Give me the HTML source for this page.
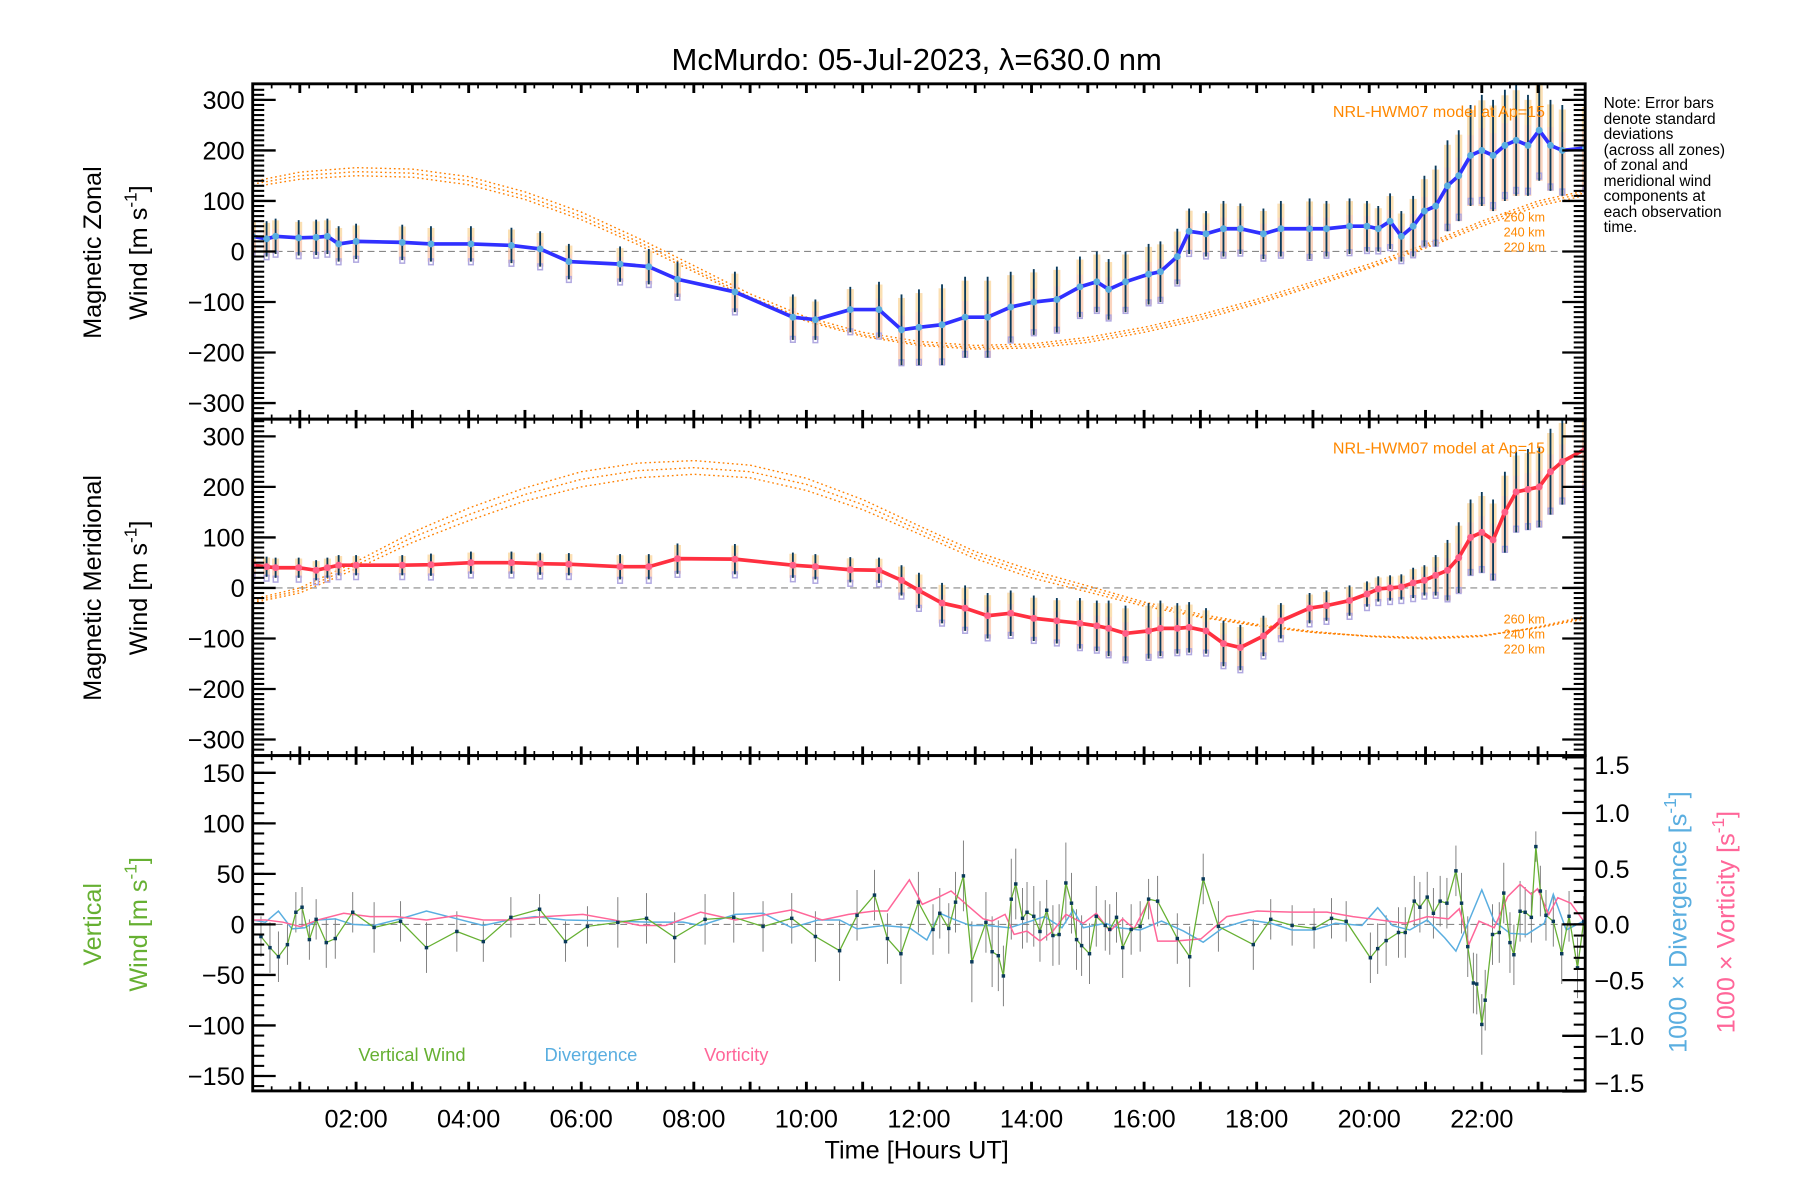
<!DOCTYPE html>
<html><head><meta charset="utf-8"><style>
html,body{margin:0;padding:0;background:#fff;}
svg{display:block;}
text{font-family:"Liberation Sans",sans-serif;}
</style></head><body>
<svg id="chart" width="1800" height="1200" viewBox="0 0 1567 1045" preserveAspectRatio="none" xmlns="http://www.w3.org/2000/svg">
<rect width="1567" height="1045" fill="#fff"/>
<text x="798" y="61" font-size="27" text-anchor="middle">McMurdo: 05-Jul-2023, λ=630.0 nm</text>
<g id="marks"></g>
<g id="axes"></g>
<g font-size="22">
<text transform="translate(88,220) rotate(-90)" text-anchor="middle">Magnetic Zonal</text>
<text transform="translate(128,220) rotate(-90)" text-anchor="middle">Wind [m s<tspan dy="-9" font-size="15">-1</tspan><tspan dy="9">]</tspan></text>
<text transform="translate(88,512) rotate(-90)" text-anchor="middle">Magnetic Meridional</text>
<text transform="translate(128,512) rotate(-90)" text-anchor="middle">Wind [m s<tspan dy="-9" font-size="15">-1</tspan><tspan dy="9">]</tspan></text>
<text transform="translate(88,805) rotate(-90)" text-anchor="middle" fill="#66b032">Vertical</text>
<text transform="translate(128,805) rotate(-90)" text-anchor="middle" fill="#66b032">Wind [m s<tspan dy="-9" font-size="15">-1</tspan><tspan dy="9">]</tspan></text>
<text transform="translate(1468,803) rotate(-90)" text-anchor="middle" fill="#5aaee0">1000 × Divergence [s<tspan dy="-9" font-size="15">-1</tspan><tspan dy="9">]</tspan></text>
<text transform="translate(1510,803) rotate(-90)" text-anchor="middle" fill="#ff6699">1000 × Vorticity [s<tspan dy="-9" font-size="15">-1</tspan><tspan dy="9">]</tspan></text>
<text x="798" y="1009" text-anchor="middle">Time [Hours UT]</text>
</g>
<g font-size="13.5">
<text x="1396" y="94">Note: Error bars</text><text x="1396" y="108">denote standard</text><text x="1396" y="121">deviations</text><text x="1396" y="135">(across all zones)</text><text x="1396" y="148">of zonal and</text><text x="1396" y="162">meridional wind</text><text x="1396" y="175">components at</text><text x="1396" y="189">each observation</text><text x="1396" y="202">time.</text>
</g>
<g font-size="14" fill="#ff8800">
<text x="1345" y="102" text-anchor="end">NRL-HWM07 model at Ap=15</text>
<text x="1345" y="193" text-anchor="end" font-size="11">260 km</text><text x="1345" y="206" text-anchor="end" font-size="11">240 km</text><text x="1345" y="219" text-anchor="end" font-size="11">220 km</text>
<text x="1345" y="395" text-anchor="end">NRL-HWM07 model at Ap=15</text>
<text x="1345" y="543" text-anchor="end" font-size="11">260 km</text><text x="1345" y="556" text-anchor="end" font-size="11">240 km</text><text x="1345" y="569" text-anchor="end" font-size="11">220 km</text>
</g>
<g font-size="16">
<text x="312" y="924" fill="#66b032">Vertical Wind</text>
<text x="474" y="924" fill="#5aaee0">Divergence</text>
<text x="613" y="924" fill="#ff6699">Vorticity</text>
</g>
</svg>
<script>
const obsHours=[0.16,0.41,0.57,0.98,1.29,1.49,1.69,2.0,2.82,3.33,4.04,4.76,5.27,5.78,6.69,7.2,7.71,8.73,9.76,10.16,10.78,11.29,11.69,12.0,12.41,12.82,13.22,13.63,14.04,14.45,14.86,15.16,15.37,15.67,16.08,16.29,16.59,16.8,17.1,17.41,17.71,18.12,18.43,18.94,19.24,19.65,19.96,20.16,20.37,20.57,20.78,20.98,21.18,21.39,21.59,21.8,22.0,22.2,22.41,22.61,22.82,23.02,23.22,23.43,23.84];
const zonalWind=[30,25,30,27,28,30,15,20,18,15,15,12,5,-20,-25,-30,-55,-80,-130,-135,-115,-115,-155,-150,-145,-130,-130,-110,-100,-95,-70,-60,-75,-60,-45,-40,-10,40,35,45,45,35,45,45,45,50,50,45,60,30,50,80,90,130,150,190,200,190,210,220,210,240,210,200,205];
const zonalErr=[35,35,35,35,35,35,35,35,35,35,35,35,35,35,35,35,35,40,45,40,45,55,70,75,80,80,80,70,65,65,60,60,60,60,60,60,55,45,45,55,50,50,55,60,55,55,50,45,55,50,60,70,80,90,90,100,110,110,110,110,100,100,90,90,90];
const meridWind=[45,42,40,40,35,40,45,45,45,46,50,50,48,47,42,42,58,57,45,42,36,35,15,-5,-30,-40,-55,-50,-60,-65,-70,-75,-80,-90,-85,-80,-80,-78,-85,-110,-118,-95,-65,-40,-35,-25,-12,-2,0,2,10,15,25,35,60,100,110,95,150,190,195,200,230,250,275];
const meridErr=[20,20,20,20,20,20,20,20,20,22,22,22,22,22,25,25,30,30,25,25,25,25,30,35,40,45,45,45,45,45,50,50,55,55,55,55,50,50,45,45,45,40,35,30,30,30,25,25,25,25,30,30,40,60,70,75,80,80,80,80,80,80,85,85,85];
const modelHours=[0,1,2,3,4,5,6,7,8,9,10,11,12,13,14,15,16,17,18,19,20,21,22,23,24];
const zonal220=[125,143,150,147,132,103,63,14,-40,-94,-138,-168,-186,-193,-191,-180,-160,-135,-104,-69,-33,7,50,90,115];
const zonal240=[130,150,158,155,140,110,70,20,-35,-90,-135,-165,-183,-190,-187,-175,-155,-130,-100,-65,-30,10,55,95,120];
const zonal260=[135,157,166,163,148,118,78,27,-28,-84,-130,-160,-178,-186,-183,-170,-150,-125,-95,-60,-25,14,60,100,124];
const merid220=[-33,-10,38,90,133,172,200,218,225,218,193,155,107,58,20,-8,-36,-58,-75,-88,-95,-98,-94,-79,-58];
const merid240=[-30,-5,45,100,145,185,215,232,238,230,205,165,115,65,28,-2,-32,-56,-74,-88,-96,-100,-95,-78,-55];
const merid260=[-27,0,52,110,158,198,230,247,252,243,217,175,123,72,35,4,-28,-52,-72,-86,-96,-101,-96,-77,-52];
const vertHours=[0.31,0.47,0.62,0.78,0.93,1.04,1.17,1.29,1.47,1.63,1.94,2.32,2.79,3.25,3.79,4.26,4.75,5.26,5.72,6.11,6.65,7.16,7.66,8.20,8.71,9.23,9.74,10.16,10.59,10.90,11.21,11.44,11.68,11.99,12.25,12.37,12.53,12.65,12.79,12.94,13.19,13.30,13.41,13.50,13.64,13.72,13.84,13.92,14.04,14.15,14.27,14.38,14.49,14.61,14.71,14.80,14.89,15.03,15.15,15.31,15.39,15.51,15.62,15.77,15.93,16.08,16.24,16.59,16.81,17.05,17.32,17.94,18.25,18.63,19.02,19.33,19.59,20.02,20.15,20.30,20.52,20.64,20.80,20.90,21.03,21.14,21.26,21.38,21.54,21.64,21.75,21.85,21.91,22.00,22.06,22.19,22.31,22.39,22.50,22.57,22.68,22.77,22.88,22.96,23.04,23.14,23.27,23.42,23.55,23.70,23.81];
const vertWind=[-12,-23,-32,-20,12,17,-15,5,-18,-14,12,-3,3,-23,-7,-17,7,15,-17,-2,2,6,-13,5,7,-2,6,-12,-26,9,29,-14,-29,22,-5,11,-4,22,48,-37,2,-27,-31,-51,25,40,6,12,8,-7,14,-11,-10,41,21,-15,-21,-29,8,-1,-5,7,-23,-5,-2,25,23,-14,-32,45,-2,-20,5,-1,-4,6,3,-33,-24,-16,-8,-8,23,17,27,11,23,21,53,21,-22,-58,-59,-99,-75,-10,-8,31,-18,-30,13,12,7,77,33,9,3,-29,8,-43,3];
const vertErr=[20,25,25,20,20,20,20,20,25,20,20,25,20,25,20,20,20,15,20,20,25,25,25,25,25,25,25,25,30,25,25,25,30,30,25,25,25,30,35,40,30,35,35,30,40,35,30,30,30,30,30,30,30,40,30,30,30,30,30,25,25,25,30,25,25,20,25,25,30,25,25,25,20,20,20,20,20,25,25,25,25,25,25,25,25,25,25,25,25,30,30,30,30,30,30,30,30,30,30,30,30,25,25,15,25,25,25,30,25,30,25];
const divHours=[0.16,0.39,0.62,0.86,1.09,1.32,1.63,1.94,2.32,2.79,3.25,3.79,4.26,4.72,5.18,5.72,6.58,7.19,7.81,8.12,8.74,9.23,9.74,10.21,10.59,10.90,11.37,11.83,12.14,12.37,12.60,12.91,13.22,13.61,13.99,14.23,14.54,14.74,14.92,15.31,15.54,15.93,16.31,16.70,17.05,17.40,17.86,18.25,18.63,19.02,19.40,19.87,20.15,20.41,20.72,21.03,21.34,21.54,21.72,22.00,22.22,22.50,22.80,23.11,23.27,23.50,23.81];
const divergence=[.04,.02,.12,-.04,-.03,.04,.05,0,-.01,.05,.12,.05,-.01,.04,.07,.04,.03,.02,.02,-.01,.09,.10,-.03,.04,.04,-.04,-.01,-.03,-.14,.10,.05,-.01,-.01,-.03,.03,.07,-.03,.13,-.03,.01,-.03,-.05,.03,-.06,-.16,-.03,.04,.01,-.05,-.05,.01,-.01,.15,-.01,-.05,.04,-.12,-.24,-.03,.31,.03,-.08,-.09,.01,.27,-.05,.03];
const vortHours=[0.16,0.39,0.70,1.01,1.32,1.78,2.25,2.71,3.25,3.79,4.26,4.72,5.34,6.03,6.58,7.04,7.50,8.12,8.74,9.20,9.74,10.28,10.75,11.21,11.44,11.83,12.06,12.37,12.57,12.84,13.14,13.30,13.53,13.69,13.92,14.15,14.38,14.61,14.92,15.15,15.39,15.62,15.82,16.08,16.24,16.54,17.01,17.47,18.01,18.63,19.25,19.71,20.18,20.64,21.03,21.41,21.60,21.77,21.95,22.22,22.46,22.68,22.88,22.99,23.19,23.35,23.58,23.81];
const vorticity=[.04,.04,.02,-.02,.04,.10,.07,.07,.04,.08,.04,.04,.07,.09,.04,-.01,-.01,.11,.04,.08,.13,.04,.09,.12,.12,.40,.18,.25,.30,.18,.05,.03,.09,-.09,-.06,-.15,-.06,.09,.01,.10,-.06,.05,-.04,.21,-.15,-.15,-.13,.07,.12,.11,.11,.07,.04,.01,.07,.05,.14,-.18,.03,-.03,.25,.36,.27,.32,.09,.24,.19,.03];
const xTickLabels=["02:00","04:00","06:00","08:00","10:00","12:00","14:00","16:00","18:00","20:00","22:00"];
const windTickLabels=["−300","−200","−100","0","100","200","300"];
const vertTickLabels=["−150","−100","−50","0","50","100","150"];
const rightTickLabels=["−1.5","−1.0","−0.5","0.0","0.5","1.0","1.5"];

const NS="http://www.w3.org/2000/svg";
const L=220,R=1380;
const P1={t:73,b:365,z:219,k:0.44},P2={t:365,b:658,z:512,k:0.44},P3={t:658,b:950,z:805,k:0.88};
const RK=97;
function X(h){return 212+49*h;}
function Y(p,v){return p.z-v*p.k;}
function YR(v){return 805-v*RK;}
const marks=document.getElementById('marks'),axes=document.getElementById('axes');
function el(tag,attrs,parent){const e=document.createElementNS(NS,tag);for(const k in attrs)e.setAttribute(k,attrs[k]);(parent||marks).appendChild(e);return e;}
function clip(id,p){const d=el('clipPath',{id:id});el('rect',{x:L,y:p.t,width:R-L,height:p.b-p.t},d);}
clip('c1',P1);clip('c2',P2);clip('c3',P3);

function windPanel(p,cid,vals,errs,m1,m2,m3,lineCol,dotCol,nm){
  const g=el('g',{'clip-path':'url(#'+cid+')'});
  
  
  el('line',{x1:L,x2:R,y1:p.z,y2:p.z,stroke:'#888','stroke-dasharray':'6,4','stroke-width':1},g);
  [m1,m2,m3].forEach((m,mi)=>{
    const pl=el('polyline',{points:modelHours.map((h,i)=>X(h)+','+Y(p,m[i])).join(' '),fill:'none',stroke:'#ff8000','stroke-width':1.2,'stroke-dasharray':'1.5,2.5'},g);
    
    
  });
  obsHours.forEach((h,i)=>{
    const x=X(h),v=vals[i],e=errs[i];
    const r1=el('rect',{x:x-3,y:Y(p,v+e*0.9),width:6,height:e*1.9*p.k,fill:'#f9c6a8',opacity:0.75},g);
    
    
    el('rect',{x:x-3,y:Y(p,v+e*0.9),width:6,height:e*0.5*p.k,fill:'#fbe2b0',opacity:0.8},g);
    el('rect',{x:x-2,y:Y(p,v-e*0.85),width:4,height:5,fill:'none',stroke:'#b0a8e0','stroke-width':1.3},g);
    const eb=el('line',{x1:x,x2:x,y1:Y(p,v-e),y2:Y(p,v+e),stroke:'#0a3a5a','stroke-width':1.6},g);
    
    
  });
  const ln=el('polyline',{points:obsHours.map((h,i)=>X(h)+','+Y(p,vals[i])).join(' '),fill:'none',stroke:lineCol,'stroke-width':3.2},g);
  
  
  obsHours.forEach((h,i)=>{
    const c=el('circle',{cx:X(h),cy:Y(p,vals[i]),r:3,fill:dotCol},g);
    
    
  });
}
windPanel(P1,'c1',zonalWind,zonalErr,zonal220,zonal240,zonal260,'#3030ff','#5aaee0','zonal');
windPanel(P2,'c2',meridWind,meridErr,merid220,merid240,merid260,'#ff3040','#ff6088','meridional');

const g3=el('g',{'clip-path':'url(#c3)'});


el('line',{x1:L,x2:R,y1:P3.z,y2:P3.z,stroke:'#888','stroke-dasharray':'6,4','stroke-width':1},g3);
vertHours.forEach((h,i)=>{
  const eb=el('line',{x1:X(h),x2:X(h),y1:Y(P3,vertWind[i]-vertErr[i]),y2:Y(P3,vertWind[i]+vertErr[i]),stroke:'#777','stroke-width':0.8},g3);
  
  
});
const dl=el('polyline',{points:divHours.map((h,i)=>X(h)+','+YR(divergence[i])).join(' '),fill:'none',stroke:'#5aaee0','stroke-width':1.3},g3);


const vl=el('polyline',{points:vortHours.map((h,i)=>X(h)+','+YR(vorticity[i])).join(' '),fill:'none',stroke:'#ff6699','stroke-width':1.3},g3);


const wl=el('polyline',{points:vertHours.map((h,i)=>X(h)+','+Y(P3,vertWind[i])).join(' '),fill:'none',stroke:'#66b032','stroke-width':1.1},g3);


vertHours.forEach((h,i)=>{
  const r=el('rect',{x:X(h)-1.5,y:Y(P3,vertWind[i])-1.5,width:3,height:3,fill:'#0a3a5a'},g3);
  
  
});

[P1,P2,P3].forEach((p,pi)=>{
  el('rect',{x:L,y:p.t,width:R-L,height:p.b-p.t,fill:'none',stroke:'#000','stroke-width':2.5},axes);
  for(let m=10;m<1440;m+=20){const h=m/60;if(X(h)<=L||X(h)>=R)continue;
    el('line',{x1:X(h),x2:X(h),y1:p.b,y2:p.b-4,stroke:'#000','stroke-width':1.5},axes);
    el('line',{x1:X(h),x2:X(h),y1:p.t,y2:p.t+4,stroke:'#000','stroke-width':1.5},axes);}
  for(let h=1;h<24;h++){
    el('line',{x1:X(h),x2:X(h),y1:p.b,y2:p.b-8,stroke:'#000','stroke-width':2.5},axes);
    el('line',{x1:X(h),x2:X(h),y1:p.t,y2:p.t+8,stroke:'#000','stroke-width':2.5},axes);}
  const labs=pi<2?windTickLabels:vertTickLabels, step=pi<2?100:50, minor=10, lim=pi<2?330:165;
  for(let v=-lim+(pi<2?0:5);v<=lim;v+=minor){const vv=Math.round(v/minor)*minor;const y=Y(p,vv);if(y<=p.t+1||y>=p.b-1)continue;
    el('line',{x1:L,x2:L+10,y1:y,y2:y,stroke:'#000','stroke-width':1.8},axes);
    if(pi<2)el('line',{x1:R,x2:R-10,y1:y,y2:y,stroke:'#000','stroke-width':1.8},axes);}
  labs.forEach((t,i)=>{const v=(i-3)*step,y=Y(p,v);
    el('line',{x1:L,x2:L+20,y1:y,y2:y,stroke:'#000','stroke-width':2},axes);
    if(pi<2)el('line',{x1:R,x2:R-20,y1:y,y2:y,stroke:'#000','stroke-width':2},axes);
    const tx=el('text',{x:213,y:y+8,'font-size':22,'text-anchor':'end'},axes);tx.textContent=t;
    
    });
});
for(let v=-1.4;v<1.45;v+=0.1){const y=YR(v);el('line',{x1:R,x2:R-10,y1:y,y2:y,stroke:'#000','stroke-width':1.8},axes);}
rightTickLabels.forEach((t,i)=>{const v=(i-3)*0.5,y=YR(v);
  el('line',{x1:R,x2:R-20,y1:y,y2:y,stroke:'#000','stroke-width':2},axes);
  const yy=Math.min(Math.max(y,666),943);
  const tx=el('text',{x:1388,y:yy+8,'font-size':22},axes);tx.textContent=t;
  
  });
xTickLabels.forEach((t,i)=>{const h=2+2*i;
  const tx=el('text',{x:X(h),y:982,'font-size':22,'text-anchor':'middle'},axes);tx.textContent=t;
  
  });
</script>
</body></html>
